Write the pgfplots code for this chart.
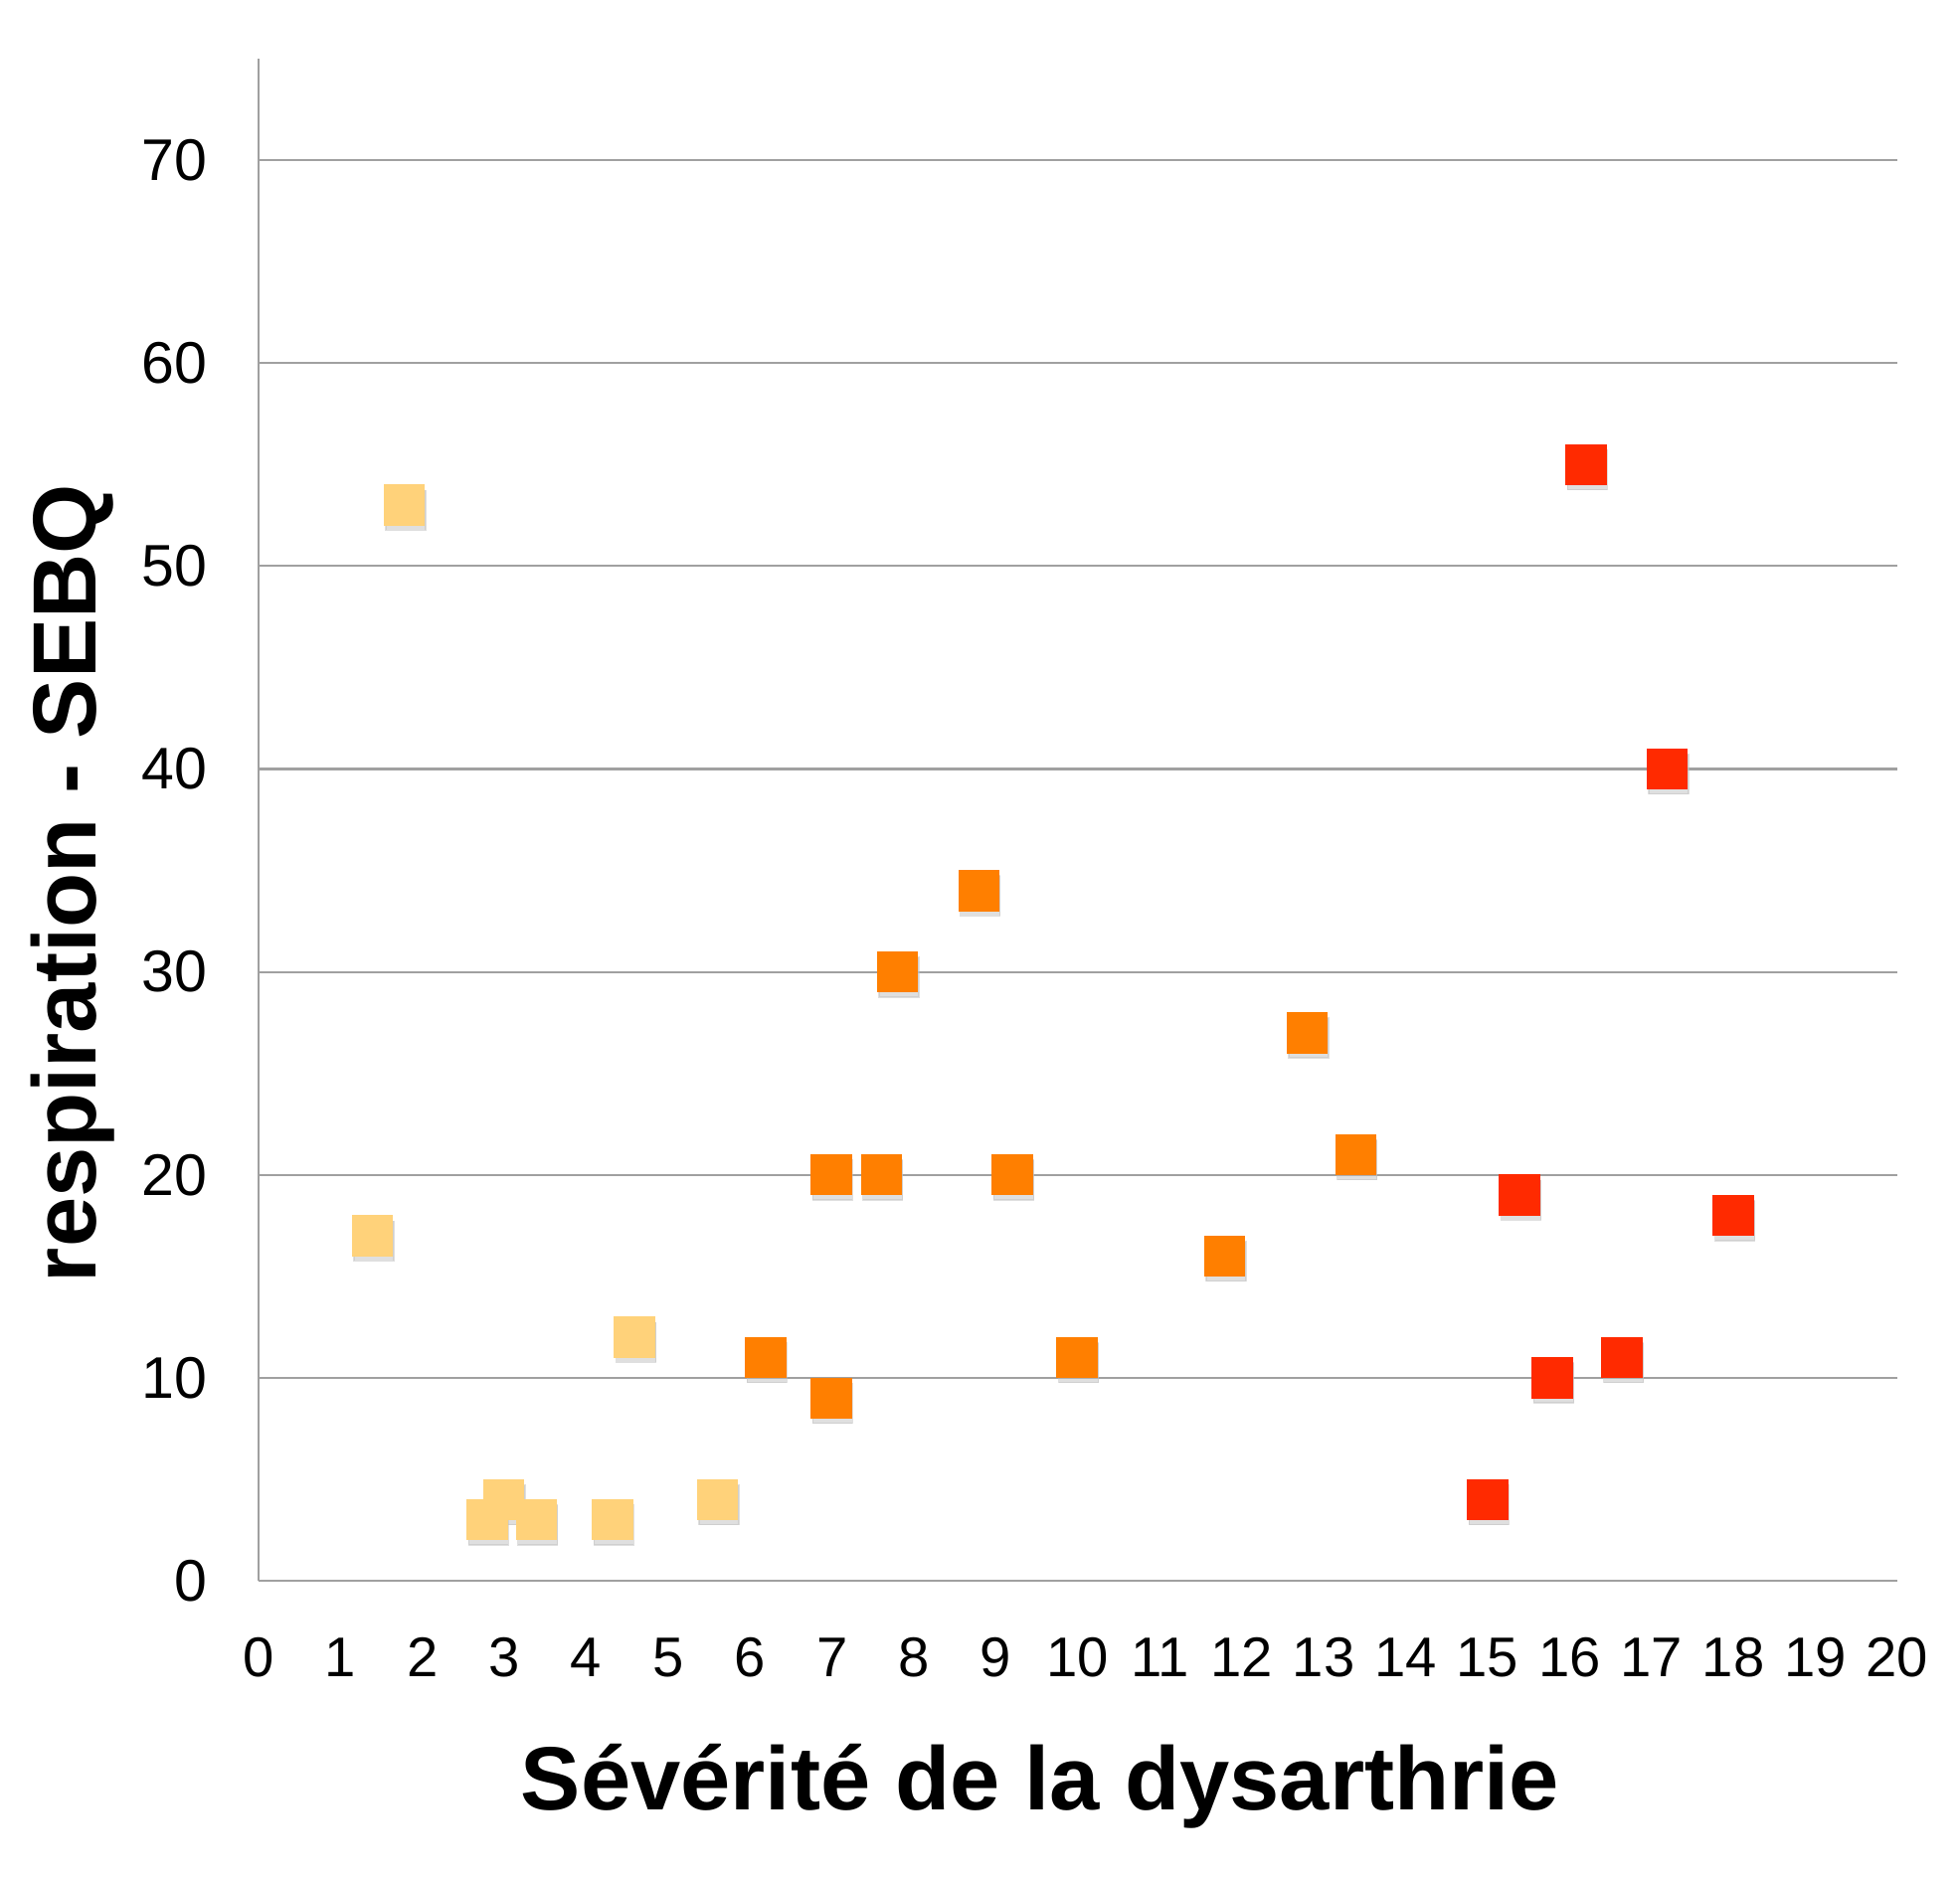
\documentclass[border=0pt]{standalone}
\usepackage{fontspec}
\setmainfont{Liberation Sans}
\usepackage{pgfplots}
\pgfplotsset{compat=1.18}
\definecolor{cyel}{HTML}{FFD27A}
\definecolor{corg}{HTML}{FF7F00}
\definecolor{cred}{HTML}{FF2A00}
\definecolor{cgrid}{HTML}{A0A0A0}
\begin{document}
\begin{tikzpicture}
\begin{axis}[
  at={(0,0)}, anchor=origin,
  scale only axis,
  width=16.48cm, height=15.31cm,
  xmin=0, xmax=20, ymin=0, ymax=75,
  xtick={0,1,...,20}, ytick={0,10,...,70},
  axis x line=bottom, axis y line=left,
  axis line style={cgrid, line width=0.6pt, -},
  ymajorgrids, grid style={cgrid, line width=0.6pt},
  major tick length=0pt,
  /pgf/number format/assume math mode=true,
  ticklabel style={font=\fontsize{16}{16}\selectfont},
  xticklabel style={yshift=-0.45cm},
  yticklabel style={xshift=-0.39cm, font=\fontsize{16.8}{17}\selectfont},
  xlabel={\textbf{Sévérité de la dysarthrie}},
  ylabel={\textbf{respiration - SEBQ}},
  label style={font=\fontsize{25.7}{26}\selectfont},
  xlabel style={at={(axis description cs:0.5,0)}, anchor=center, yshift=-2.07cm, xshift=-0.38cm},
  ylabel style={at={(axis description cs:0,0.5)}, anchor=center, yshift=1.87cm, xshift=-0.64cm},
  clip=false,
]
\addplot[only marks, mark=square*, mark size=5.7pt, mark options={draw=black!25, fill=black!25, xshift=0.4pt, yshift=-1.5pt, opacity=0.5}, forget plot] coordinates {
(1.78,53) (1.39,17) (2.79,3) (2.99,4) (3.39,3) (4.32,3) (4.59,12) (5.6,4)
(6.19,11) (6.99,20) (6.99,9) (7.6,20) (7.8,30) (8.79,34) (9.2,20) (9.99,11) (11.79,16) (12.8,27) (13.39,21)
(15.0,4) (15.39,19) (15.79,10) (16.2,55) (16.64,11) (17.19,40) (18.0,18)
};
\addplot[only marks, mark=square*, mark size=5.7pt, mark options={draw=cyel, fill=cyel}] coordinates {
(1.78,53) (1.39,17) (2.79,3) (2.99,4) (3.39,3) (4.32,3) (4.59,12) (5.6,4)
};
\addplot[only marks, mark=square*, mark size=5.7pt, mark options={draw=corg, fill=corg}] coordinates {
(6.19,11) (6.99,20) (6.99,9) (7.6,20) (7.8,30) (8.79,34) (9.2,20) (9.99,11) (11.79,16) (12.8,27) (13.39,21)
};
\addplot[only marks, mark=square*, mark size=5.7pt, mark options={draw=cred, fill=cred}] coordinates {
(15.0,4) (15.39,19) (15.79,10) (16.2,55) (16.64,11) (17.19,40) (18.0,18)
};
\end{axis}
\useasboundingbox (-2.60cm,-2.98cm) rectangle (17.11cm,15.90cm);
\end{tikzpicture}
\end{document}
